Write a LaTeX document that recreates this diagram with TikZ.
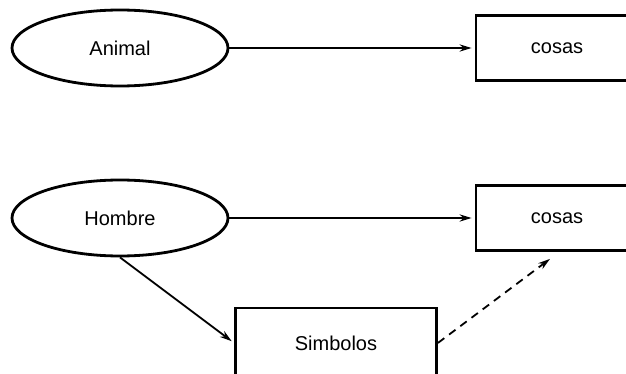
\documentclass[tikz,border=0pt]{standalone}
\usepackage{fontspec}
\setmainfont{Liberation Sans}
\usetikzlibrary{arrows.meta,shapes.geometric,positioning}

\begin{document}
\begin{tikzpicture}[shorten >=1.5pt,on grid,>={Stealth[length=6pt,width=3.6pt]},
		being/.style={draw,ellipse,line width=1.4pt,minimum width=108pt,minimum height=38pt,inner sep=0pt,font=\fontsize{10}{12}\selectfont},
		thing/.style={draw,rectangle,line width=1.4pt,minimum width=81pt,minimum height=32.5pt,font=\fontsize{10}{12}\selectfont},
		link/.style={line width=0.9pt}]
			\clip (0,0) rectangle (313pt,-187pt);
			\node[being] (animal) at (60pt,-24pt) {Animal};
			\node[thing] (cosas_1) [right=218.5pt of animal] {cosas};
			\node[being] (hombre) [below=85pt of animal] {Hombre};
			\node[thing] (cosas_2) [right=218.5pt of hombre] {cosas};
			\node[thing, minimum width=100.5pt, minimum height=35pt] (simbolos) [below right=62.5pt and 108pt of hombre] {Simbolos};
			\coordinate[below left=3.5pt and 3.5pt of cosas_2.south] (c_2);
			\path[->,link]
			(animal) edge (cosas_1)
			(hombre) edge (cosas_2)
			(hombre.south) edge (simbolos.west)
			(simbolos.east)
			edge [dash pattern=on 4pt off 3pt, shorten >=0pt] (c_2);
		\end{tikzpicture}
\end{document}
